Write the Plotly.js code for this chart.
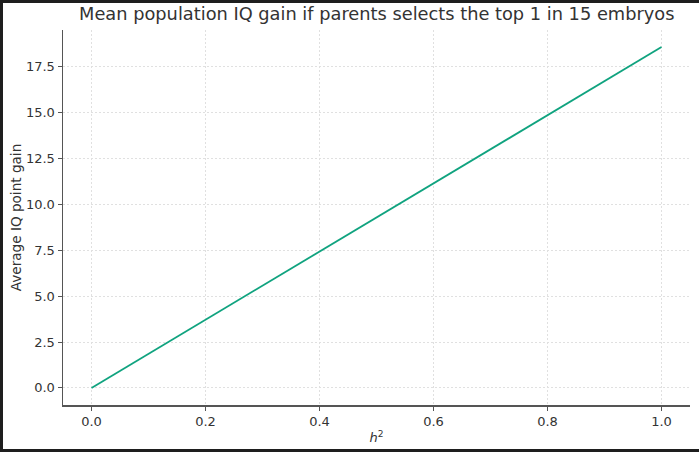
<!DOCTYPE html>
<html>
<head>
<meta charset="utf-8">
<script src="https://cdn.plot.ly/plotly-3.0.1.min.js"></script>
<style>
  html, body { margin: 0; padding: 0; background: #1e1e1e; }
  #plotDiv { position: absolute; left: 3px; top: 3px; width: 696px; height: 446px; background: #fff; }
</style>
</head>
<body>
<div id="plotDiv"></div>
<script>
// heritability values and the gain
var h2 = [0, 0.2, 0.4, 0.6, 0.8, 1.0];
var gain = [0, 3.71, 7.43, 11.14, 14.86, 18.57];
var xTicks = [0, 0.2, 0.4, 0.6, 0.8, 1.0];
var xTickText = ['0.0', '0.2', '0.4', '0.6', '0.8', '1.0'];
var yTicks = [0, 2.5, 5, 7.5, 10, 12.5, 15, 17.5];
var yTickText = ['0.0', '2.5', '5.0', '7.5', '10.0', '12.5', '15.0', '17.5'];

function makePlot(){
  var trace1 = {
    x: h2,
    y: gain,
    mode: 'lines',
    type: 'scatter',
    line: {color: '#10a37f', width: 1.8}
  };

  var layout = {
    width: 696,
    height: 446,
    margin: {l: 60, r: 9, t: 27, b: 44},
    paper_bgcolor: '#ffffff',
    plot_bgcolor: '#ffffff',
    font: {family: 'DejaVu Sans', size: 13, color: '#333333'},
    showlegend: false,
    title: {
      text: 'Mean population IQ gain if parents selects the top 1 in 15 embryos',
      font: {size: 17.8, color: '#333333'},
      x: 0.537, xanchor: 'center',
      y: 0.99, yanchor: 'top'
    },
    xaxis: {
      range: [-0.05, 1.05],
      tickvals: xTicks,
      ticktext: xTickText,
      showgrid: true,
      gridcolor: '#e0e0e0',
      griddash: '2px,2px',
      gridwidth: 1,
      zeroline: false,
      showline: true,
      linecolor: '#555555',
      linewidth: 1.5,
      ticks: 'outside',
      ticklen: 4,
      tickcolor: '#555555',
      title: {text: '<i>h</i><sup>2</sup>', font: {size: 13}, standoff: 5}
    },
    yaxis: {
      range: [-0.93, 19.5],
      tickvals: yTicks,
      ticktext: yTickText,
      showgrid: true,
      gridcolor: '#e0e0e0',
      griddash: '2px,2px',
      gridwidth: 1,
      zeroline: false,
      showline: true,
      linecolor: '#555555',
      linewidth: 1.5,
      ticks: 'outside',
      ticklen: 4,
      tickcolor: '#555555',
      title: {text: 'Average IQ point gain', font: {size: 13.6}, standoff: 1}
    }
  };

  Plotly.newPlot('plotDiv', [trace1], layout, {displayModeBar: false, staticPlot: true});
}

makePlot();
</script>
</body>
</html>
